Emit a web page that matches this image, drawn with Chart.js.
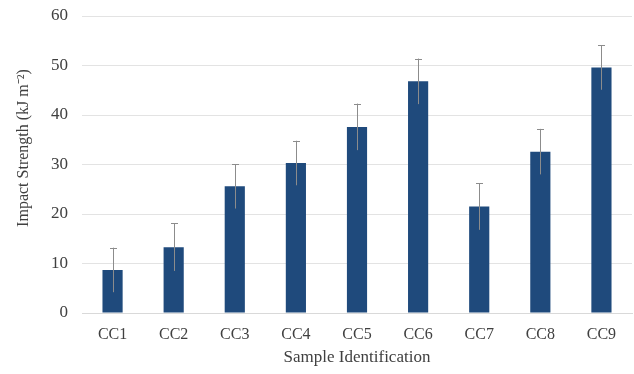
<!DOCTYPE html>
<html>
<head>
<meta charset="utf-8">
<style>
  html, body { margin: 0; padding: 0; background: #fff; }
  #wrap { width: 634px; height: 374px; }
</style>
<script src="https://cdn.jsdelivr.net/npm/chart.js@4"></script>
</head>
<body>
<div id="wrap"><canvas id="myChart" width="634" height="374"></canvas></div>
<script>
"use strict";

const samples = ["CC1", "CC2", "CC3", "CC4", "CC5", "CC6", "CC7", "CC8", "CC9"];
const strength = [8.7, 13.3, 25.6, 30.3, 37.6, 46.8, 21.5, 32.6, 49.6];
const strengthErr = [4.5, 4.8, 4.5, 4.5, 4.7, 4.6, 4.7, 4.6, 4.5];
const yTicks = [0, 10, 20, 30, 40, 50, 60];
const yTitle = "Impact Strength (kJ m\u207B\u00B2)";

const textColor = "#404040";
const serif = "'Liberation Serif', 'Times New Roman', serif";

// whiskers drawn on top of the bars from the error array
const errorBars = {
  id: "errorBars",
  afterDatasetsDraw(chart) {
    const ctx = chart.ctx;
    const x = chart.scales.x;
    const y = chart.scales.y;
    ctx.save();
    ctx.strokeStyle = "#8c8c8c";
    ctx.lineWidth = 1;
    strength.forEach((v, i) => {
      const px = Math.round(x.getPixelForValue(i)) + 0.5;
      const top = y.getPixelForValue(v + strengthErr[i]);
      const bot = y.getPixelForValue(v - strengthErr[i]);
      ctx.beginPath();
      ctx.moveTo(px, bot);
      ctx.lineTo(px, top);
      ctx.moveTo(px - 3.5, Math.round(top) + 0.5);
      ctx.lineTo(px + 3.5, Math.round(top) + 0.5);
      ctx.stroke();
    });
    ctx.restore();
  },
};

// y title sits a bit above the plot centre in the original, so draw it here
const yAxisTitle = {
  id: "yAxisTitle",
  afterDraw(chart) {
    const ctx = chart.ctx;
    ctx.save();
    ctx.translate(24, 148);
    ctx.rotate(-Math.PI / 2);
    ctx.font = "16px " + serif;
    ctx.fillStyle = textColor;
    ctx.textAlign = "center";
    ctx.textBaseline = "middle";
    ctx.fillText(yTitle, 0, 0);
    ctx.restore();
  },
};

new Chart("myChart", {
  type: "bar",
  data: {
    labels: samples,
    datasets: [
      {
        data: strength,
        backgroundColor: "#1f4a7c",
        barPercentage: 0.33,
        categoryPercentage: 1,
      },
    ],
  },
  plugins: [errorBars, yAxisTitle],
  options: {
    responsive: false,
    animation: false,
    layout: { padding: { top: 16, right: 2, left: 0, bottom: 6 } },
    plugins: {
      legend: { display: false },
      tooltip: { enabled: false },
    },
    scales: {
      x: {
        grid: { display: false, drawTicks: false },
        border: { display: true, color: "#d9d9d9" },
        ticks: { color: textColor, font: { family: serif, size: 16 }, padding: 12, maxRotation: 0 },
        title: {
          display: true,
          text: "Sample Identification",
          color: textColor,
          font: { family: serif, size: 17 },
          padding: { top: 0, bottom: 0 },
        },
        afterFit: (s) => { s.height = 55; s.paddingLeft = 0; s.paddingRight = 0; },
      },
      y: {
        min: 0,
        max: 60,
        afterBuildTicks: (s) => { s.ticks = yTicks.map((v) => ({ value: v })); },
        grid: { color: "#e3e3e3", drawTicks: false },
        border: { display: false },
        ticks: { color: textColor, font: { family: serif, size: 17 }, padding: 14 },
        afterFit: (s) => { s.width = 82; s.paddingTop = 0; s.paddingBottom = 0; },
      },
    },
  },
});
</script>
</body>
</html>
